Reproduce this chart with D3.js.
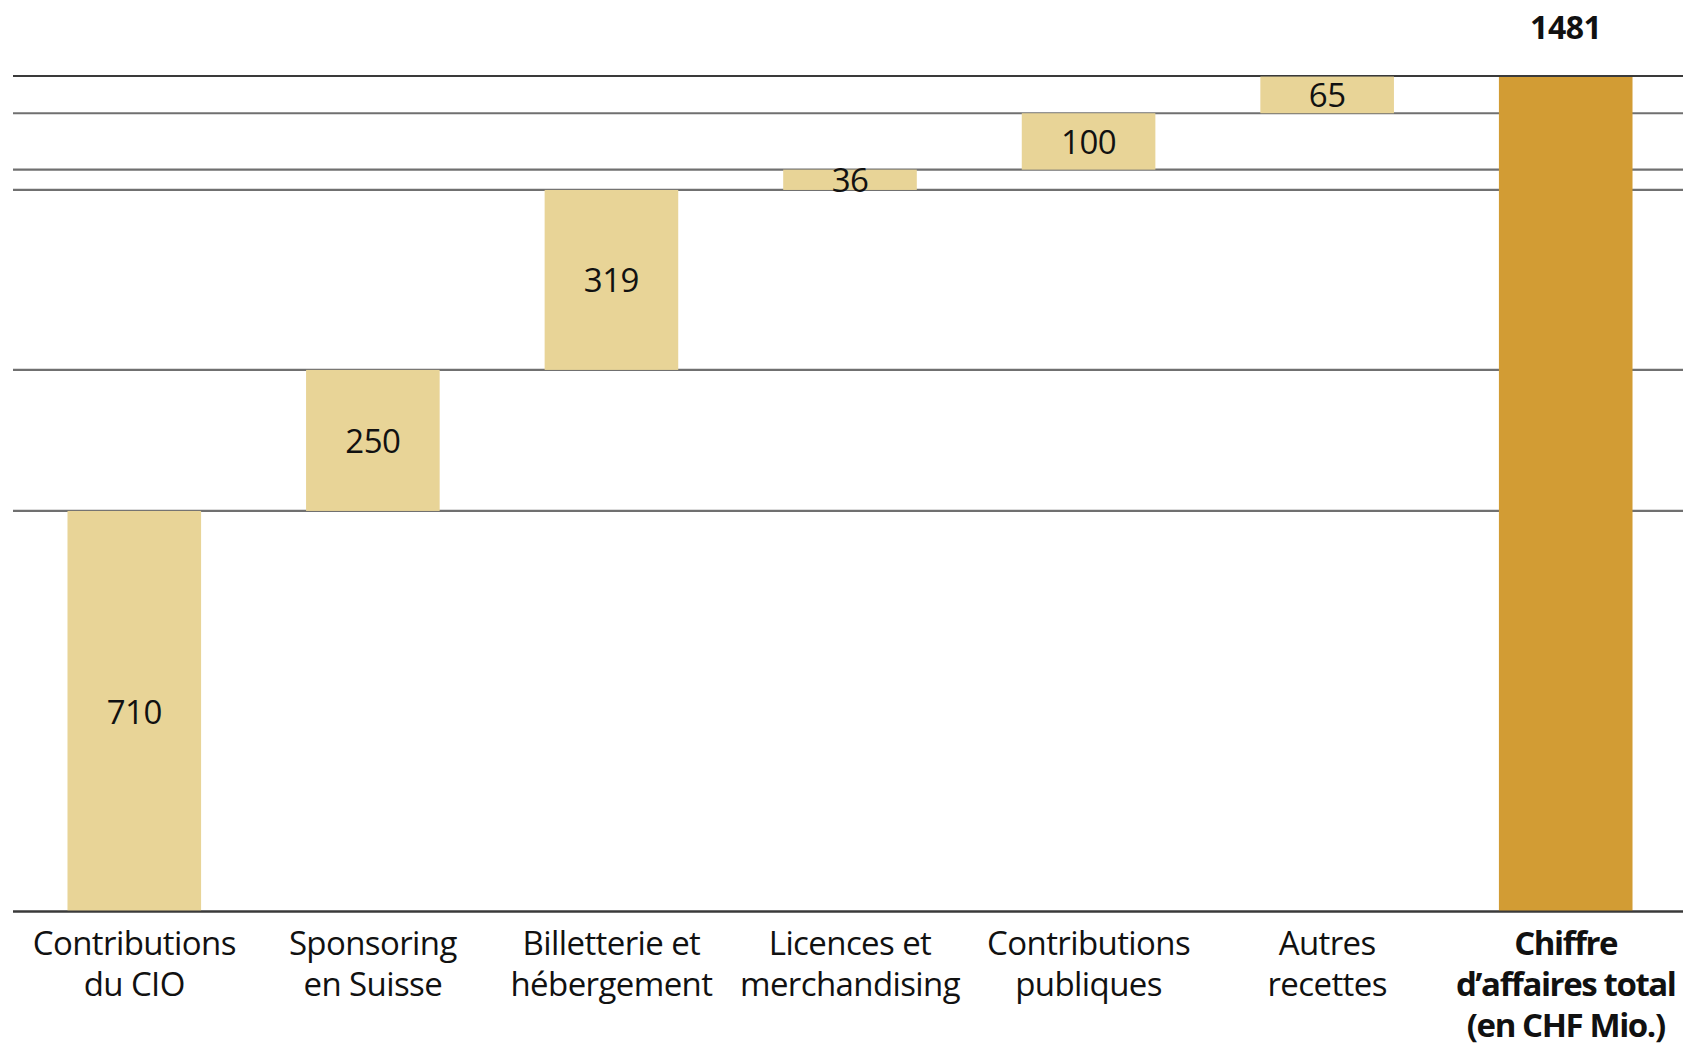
<!DOCTYPE html>
<html><head><meta charset="utf-8">
<script src="https://cdn.jsdelivr.net/npm/d3@7"></script>
<style>
html,body{margin:0;padding:0;background:#fff;}
svg{display:block;}
text{font-family:"Open Sans","Noto Sans",sans-serif;fill:#111;}
</style></head>
<body>
<svg id="chart" width="1683" height="1047"></svg>
<script>
const categories = [
  ["Contributions","du CIO"],
  ["Sponsoring","en Suisse"],
  ["Billetterie et","hébergement"],
  ["Licences et","merchandising"],
  ["Contributions","publiques"],
  ["Autres","recettes"],
  ["Chiffre","d\u2019affaires total","(en CHF Mio.)"]
];
const values = [710, 250, 319, 36, 100, 65];
const total = 1481;
const yDomain = [0, 1481];

const svg = d3.select("#chart");
const W = 1683;
const keys = categories.map((c,i)=>"c"+i);
const x = d3.scaleBand().domain(keys).range([15, 1685]).paddingInner(0.44).paddingOuter(0.22);
const y = d3.scaleLinear().domain(yDomain).range([911.5, 76]);

// cumulative steps
let acc = 0;
const steps = values.map((v,i)=>{ const s = {key:keys[i], start:acc, end:acc+v, v}; acc += v; return s; });

// horizontal level lines
const levels = steps.map(s=>s.start).concat([total]);
svg.append("g").selectAll("line").data(levels).join("line")
  .attr("x1", 13).attr("x2", W)
  .attr("y1", d=>y(d)).attr("y2", d=>y(d))
  .attr("stroke", (d,i)=> (i===0||d===total) ? "#3a3a3a" : "#707070")
  .attr("stroke-width", 2.2);

// step bars
svg.append("g").selectAll("rect").data(steps).join("rect")
  .attr("x", d=>x(d.key)).attr("width", x.bandwidth())
  .attr("y", d=>y(d.end)).attr("height", d=>y(d.start)-y(d.end))
  .attr("fill", "#E8D497");

// total bar
svg.append("rect")
  .attr("x", x(keys[6])).attr("width", x.bandwidth())
  .attr("y", y(total)+1).attr("height", y(0)-y(total)-1)
  .attr("fill", "#D29C34");

// baseline redraw on top
svg.append("line").attr("x1",13).attr("x2",W).attr("y1",y(0)).attr("y2",y(0))
  .attr("stroke","#3a3a3a").attr("stroke-width",2.2);

// value labels
svg.append("g").selectAll("text").data(steps).join("text")
  .attr("x", d=>x(d.key)+x.bandwidth()/2)
  .attr("y", d=>(y(d.start)+y(d.end))/2)
  .attr("text-anchor","middle").attr("dominant-baseline","central")
  .attr("font-size", 33).attr("letter-spacing", -0.5)
  .text(d=>d.v);

svg.append("text")
  .attr("x", x(keys[6])+x.bandwidth()/2).attr("y", 26)
  .attr("text-anchor","middle").attr("dominant-baseline","central")
  .attr("font-size", 32).attr("font-weight","bold").attr("letter-spacing",-0.5)
  .text(total);

// category labels
const lab = svg.append("g").selectAll("text").data(categories).join("text")
  .attr("text-anchor","middle")
  .attr("font-size", 33)
  .attr("letter-spacing", (d,i)=> i===6 ? -1.4 : -0.6)
  .attr("font-weight", (d,i)=> i===6 ? "bold" : "normal");
lab.selectAll("tspan").data((d,i)=>d.map(t=>({t, key:keys[i]}))).join("tspan")
  .attr("x", d=>x(d.key)+x.bandwidth()/2)
  .attr("y", (d,j)=>955 + j*41)
  .text(d=>d.t);
</script>
</body></html>
